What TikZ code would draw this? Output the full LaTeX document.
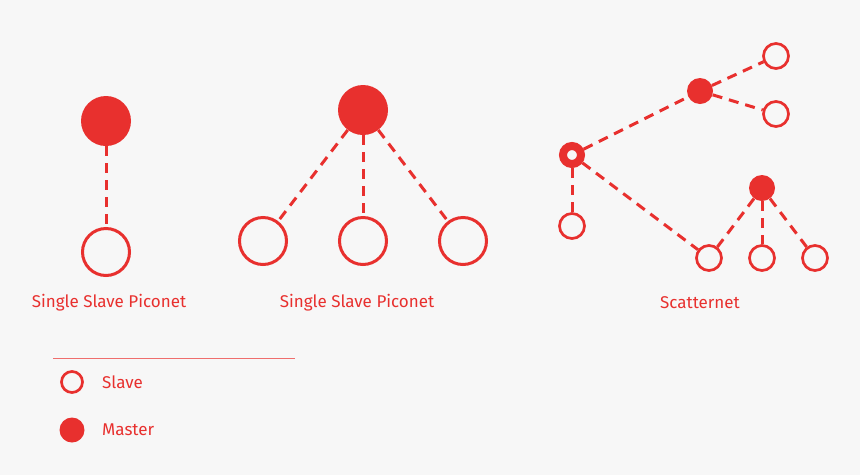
\documentclass[tikz,border=0pt]{standalone}
\usepackage{fontspec}
\setmainfont{Fira Sans}
\usetikzlibrary{arrows.meta}
\definecolor{bg}{HTML}{F7F7F7}
\definecolor{bred}{HTML}{E8302E}
\begin{document}
\begin{tikzpicture}[x=1pt,y=-1pt,
  slavebig/.style={circle,draw=bred,line width=3pt,minimum size=47pt,inner sep=0pt},
  masterbig/.style={circle,fill=bred,minimum size=50pt,inner sep=0pt},
  slavesm/.style={circle,draw=bred,line width=2.7pt,minimum size=25pt,inner sep=0pt},
  mastersm/.style={circle,fill=bred,minimum size=26pt,inner sep=0pt},
  bridge/.style={circle,draw=bred,line width=8pt,minimum size=18pt,inner sep=0pt},
  link/.style={draw=bred,line width=3pt,dash pattern=on 10pt off 7pt},
  lbl/.style={text=bred,font=\fontsize{17}{20}\selectfont,inner sep=0pt},
  legtxt/.style={text=bred,font=\fontsize{17}{20}\selectfont,inner sep=0pt,anchor=west}]
\useasboundingbox[fill=bg] (0,0) rectangle (860,475);

% left piconet
\node[masterbig] (m1) at (106,121) {};
\node[slavebig] (s1) at (106,252) {};
\draw[link] (m1) -- (s1);
\node[lbl] (l1) at (109,303) {Single Slave Piconet};

% middle piconet
\node[masterbig] (m2) at (363,110) {};
\node[slavebig] (s2a) at (263,241) {};
\node[slavebig] (s2b) at (363,241) {};
\node[slavebig] (s2c) at (463,241) {};
\foreach \s in {s2a,s2b,s2c} \draw[link] (m2) -- (\s);
\node[lbl] (l2) at (357,303) {Single Slave Piconet};

% scatternet
\node[bridge] (b) at (572,155) {};
\node[mastersm] (m3) at (700,91) {};
\node[slavesm] (s3a) at (776,56) {};
\node[slavesm] (s3b) at (776,114) {};
\node[slavesm] (s3c) at (572,226) {};
\node[mastersm] (m4) at (762,188) {};
\node[slavesm] (s4a) at (709,258) {};
\node[slavesm] (s4b) at (762,258) {};
\node[slavesm] (s4c) at (815,258) {};
\draw[link] (b) -- (m3);
\draw[link] (m3) -- (s3a);
\draw[link] (m3) -- (s3b);
\draw[link] (b) -- (s3c);
\draw[link] (b) -- (s4a);
\foreach \s in {s4a,s4b,s4c} \draw[link] (m4) -- (\s);
\node[lbl] (l3) at (700,303) {Scatternet};

% legend
\coordinate (la) at (53,358);
\coordinate (lb) at (295,358);
\draw[bred!70,line width=1pt] (la) -- (lb);
\node[circle,draw=bred,line width=2.7pt,minimum size=21pt,inner sep=0pt] (ls) at (72,382) {};
\node[circle,fill=bred,minimum size=25pt,inner sep=0pt] (lm) at (72,430) {};
\node[legtxt] (lst) at (102,382) {Slave};
\node[legtxt] (lmt) at (102,430) {Master};
\end{tikzpicture}
\end{document}
